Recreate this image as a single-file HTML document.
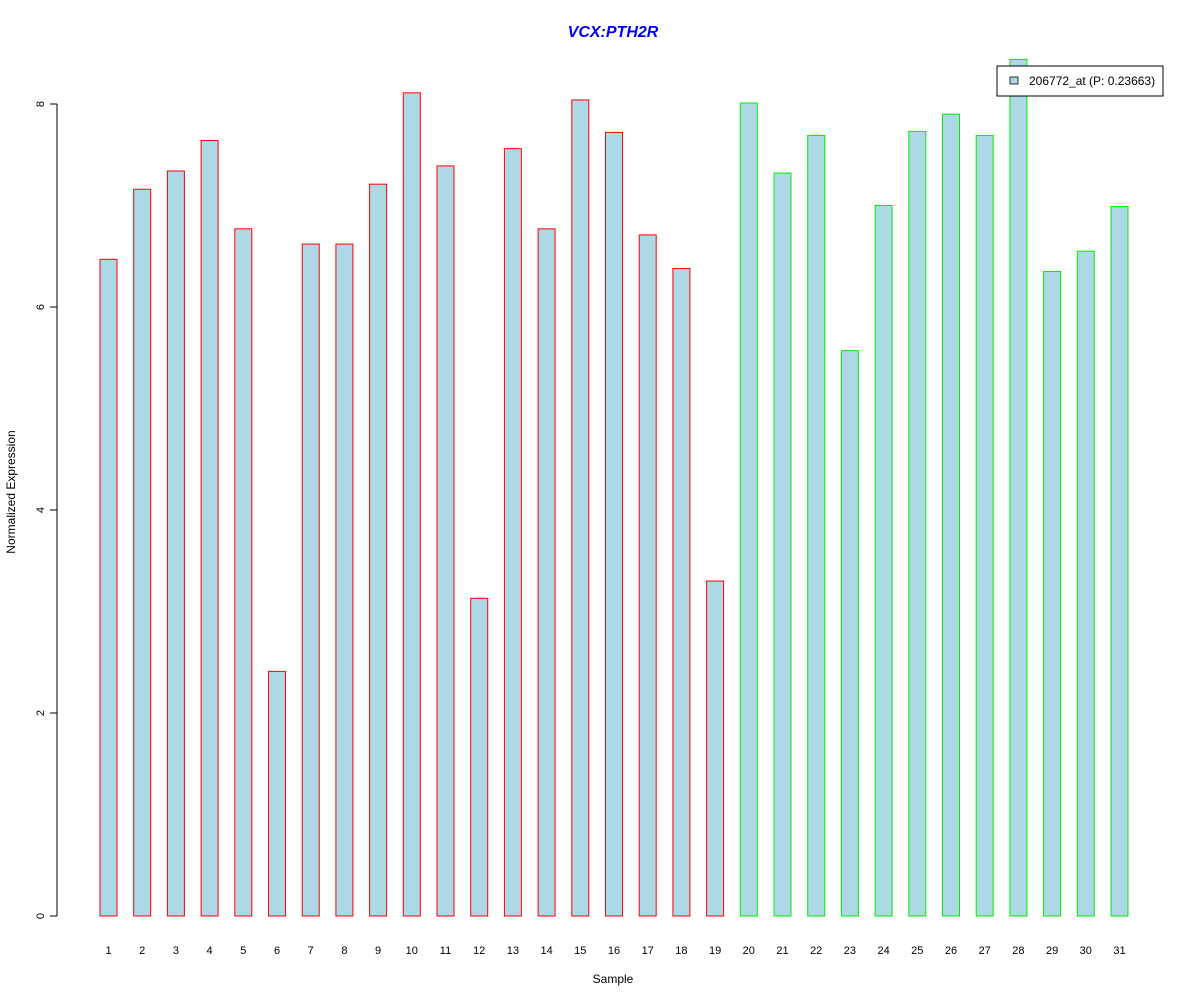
<!DOCTYPE html>
<html><head><meta charset="utf-8"><style>
body{margin:0;background:#fff}
svg{display:block;font-family:"Liberation Sans",Arial,sans-serif}
</style></head><body>
<svg id="chart" width="1200" height="1000" viewBox="0 0 1200 1000">
<rect width="1200" height="1000" fill="#fff"/>
<text x="613" y="37" text-anchor="middle" font-size="16" font-weight="bold" font-style="italic" fill="#0000ee">VCX:PTH2R</text>
<g id="bars"></g>
<g id="yaxis"></g>
<g id="xlabels"></g>
<text x="613" y="983" text-anchor="middle" font-size="12">Sample</text>
<text transform="translate(15,492) rotate(-90)" text-anchor="middle" font-size="12">Normalized Expression</text>
<g>
<rect x="997" y="66" width="166" height="30" fill="#fff" stroke="#000"/>
<rect x="1010" y="77" width="8" height="7" fill="#add8e6" stroke="#000" stroke-width="0.8"/>
<text x="1029" y="85" font-size="12">206772_at (P: 0.23663)</text>
</g>
</svg>
<script>
const values=[6.47,7.16,7.34,7.64,6.77,2.41,6.62,6.62,7.21,8.11,7.39,3.13,7.56,6.77,8.04,7.72,6.71,6.38,3.30,8.01,7.32,7.69,5.57,7.00,7.73,7.90,7.69,8.44,6.35,6.55,6.99];
const groups=["a","a","a","a","a","a","a","a","a","a","a","a","a","a","a","a","a","a","a","b","b","b","b","b","b","b","b","b","b","b","b"];
const yTicks=[0,2,4,6,8];
const NS="http://www.w3.org/2000/svg";
const y=v=>916-v*101.5;
const x=i=>100+i*33.7;
const bars=document.getElementById('bars');
const xl=document.getElementById('xlabels');
values.forEach((v,i)=>{
  const r=document.createElementNS(NS,'rect');
  r.setAttribute('x',x(i));r.setAttribute('y',y(v));
  r.setAttribute('width',17);r.setAttribute('height',916-y(v));
  r.setAttribute('fill','#add8e6');
  r.setAttribute('stroke',groups[i]==="a"?'#ff0000':'#00ee00');
  
  
  bars.appendChild(r);
  const t=document.createElementNS(NS,'text');
  t.setAttribute('x',x(i)+8.5);t.setAttribute('y',954);
  t.setAttribute('text-anchor','middle');t.setAttribute('font-size','11');
  t.textContent=String(i+1);
  
  
  xl.appendChild(t);
});
const ya=document.getElementById('yaxis');
const ln=document.createElementNS(NS,'line');
ln.setAttribute('x1',57);ln.setAttribute('x2',57);ln.setAttribute('y1',y(8));ln.setAttribute('y2',y(0));ln.setAttribute('stroke','#000');


ya.appendChild(ln);
yTicks.forEach(v=>{
  const tk=document.createElementNS(NS,'line');
  tk.setAttribute('x1',50);tk.setAttribute('x2',57);tk.setAttribute('y1',y(v));tk.setAttribute('y2',y(v));tk.setAttribute('stroke','#000');
  
  
  ya.appendChild(tk);
  const t=document.createElementNS(NS,'text');
  t.setAttribute('transform','translate(44,'+y(v)+') rotate(-90)');
  t.setAttribute('text-anchor','middle');t.setAttribute('font-size','11');
  t.textContent=String(v);
  
  
  ya.appendChild(t);
});
</script>
</body></html>
